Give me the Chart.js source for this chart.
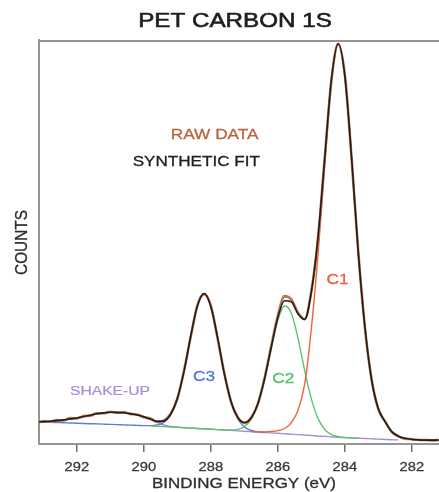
<!DOCTYPE html>
<html>
<head>
<meta charset="utf-8">
<script src="https://cdn.jsdelivr.net/npm/chart.js@4.4.1/dist/chart.umd.min.js"></script>
<style>
  html, body { margin: 0; padding: 0; background: #ffffff; }
  #wrap { width: 439px; height: 492px; position: relative; }
</style>
</head>
<body>
<div id="wrap"><canvas id="c" width="439" height="492"></canvas></div>
<script>
// Binding energy grid (eV)
const energy = [293.2,293.0,292.8,292.6,292.4,292.2,292.0,291.8,291.6,291.4,291.2,291.0,290.8,290.6,290.4,290.2,290.0,
  289.8,289.6,289.4,289.2,289.0,288.8,288.6,288.4,288.2,288.0,287.8,287.6,287.4,287.2,287.0,286.8,286.6,286.4,286.2,286.0,
  285.8,285.6,285.4,285.2,285.0,284.8,284.6,284.4,284.2,284.0,283.8,283.6,283.4,283.2,283.0,282.8,282.6,282.4,282.2,282.0,
  281.8,281.6,281.4,281.2];

const rawData = [5.3,5.6,5.5,5.9,5.8,6.4,6.3,6.9,7.0,7.6,7.6,8.0,7.7,7.9,7.4,7.3,6.6,
  6.3,5.5,5.8,7.5,11.2,18.2,26.6,34.4,37.1,34.2,26.2,17.6,10.5,6.7,5.2,6.5,9.8,16.2,24.1,31.8,
  36.6,35.8,32.5,30.9,37.8,51.0,70.9,90.1,99.0,91.3,70.8,47.6,28.7,15.9,8.6,5.6,3.0,1.9,1.3,1.2,
  1.0,1.0,0.9,1.0];

const syntheticFit = [5.50,5.55,5.64,5.78,5.97,6.21,6.45,6.79,7.13,7.47,7.71,7.85,7.84,7.73,7.52,7.20,6.74,
  6.14,5.59,5.73,7.36,11.32,18.03,26.74,34.24,37.25,34.06,26.37,17.48,10.59,6.60,5.32,6.38,9.94,16.01,23.88,31.30,
  35.44,35.23,32.22,30.81,37.66,51.28,70.79,90.34,99.12,91.11,71.01,47.43,28.86,15.78,8.71,5.53,3.06,1.92,1.40,1.13,
  1.02,0.96,0.95,0.95];

const c1 = [null,null,null,null,null,null,null,null,null,null,null,null,null,null,null,null,null,
  null,null,null,null,null,null,null,null,null,null,null,null,null,null,null,3.06,3.01,3.01,3.08,3.30,
  3.84,5.23,8.32,14.81,28.60,46.99,69.08,89.77,98.96,91.08,71.01,47.43,28.86,15.78,8.71,5.53,3.06,1.92,1.40,null,
  null,null,null,null];

const c2 = [null,null,null,null,null,null,null,null,null,null,null,null,null,null,null,null,null,
  4.47,4.40,4.30,4.22,4.13,4.03,3.94,3.84,3.75,3.66,3.57,3.48,3.45,3.61,4.29,6.09,9.82,15.86,23.55,30.65,
  34.14,32.43,26.22,18.21,11.16,6.28,3.59,2.34,1.82,1.61,1.51,1.43,null,null,null,null,null,null,null,null,
  null,null,null,null];

const c3 = [5.50,5.45,5.39,5.33,5.27,5.21,5.15,5.09,5.03,4.97,4.91,4.85,4.79,4.73,4.67,4.60,4.54,
  4.54,4.69,5.33,7.21,11.27,18.03,26.74,34.24,37.25,34.06,26.36,17.46,10.50,6.25,4.19,3.35,3.03,2.86,null,null,
  null,null,null,null,null,null,null,null,null,null,null,null,null,null,null,null,null,null,null,null,
  null,null,null,null];

const shakeUp = [5.50,5.55,5.64,5.78,5.97,6.21,6.45,6.79,7.13,7.47,7.71,7.85,7.84,7.73,7.52,7.20,6.74,
  6.07,5.30,4.70,4.37,4.18,4.03,3.94,3.84,3.75,3.66,3.56,3.46,3.36,3.26,3.16,3.06,2.96,2.86,2.75,2.65,
  2.54,2.43,2.32,2.21,2.10,1.99,1.88,1.77,1.66,1.58,1.51,1.43,1.36,1.28,1.21,1.13,1.06,1.02,null,null,
  null,null,null,null];

const tickValues = [292, 290, 288, 286, 284, 282];
const tickLabels = ['292', '290', '288', '286', '284', '282'];

function pts(arr) {
  return energy.map((e, i) => ({ x: e, y: arr[i] }));
}

const SX = 1.18;
function drawText(ctx, s, x, y, size, color, align, sx, stroke) {
  ctx.save();
  ctx.translate(x, y);
  ctx.scale(sx, 1);
  ctx.font = size + 'px "Liberation Sans", Arial, sans-serif';
  ctx.fillStyle = color;
  ctx.textAlign = align;
  ctx.textBaseline = 'alphabetic';
  ctx.fillText(s, 0, 0);
  if (stroke) {
    ctx.strokeStyle = color;
    ctx.lineWidth = stroke;
    ctx.strokeText(s, 0, 0);
  }
  ctx.restore();
}

const decor = {
  id: 'decor',
  afterDraw(chart) {
    const ctx = chart.ctx;
    const a = chart.chartArea;
    const xs = chart.scales.x;
    // frame top line
    ctx.save();
    ctx.strokeStyle = '#959595';
    ctx.lineWidth = 2;
    ctx.beginPath();
    ctx.moveTo(a.left, a.top + 1);
    ctx.lineTo(a.right, a.top + 1);
    ctx.stroke();
    ctx.restore();
    // title
    drawText(ctx, 'PET CARBON 1S', 235, 26.5, 20.5, '#1e1e1e', 'center', SX, 0.6);
    // legend texts
    drawText(ctx, 'RAW DATA', 258.5, 139, 14.6, '#b8643c', 'right', SX, 0.3);
    drawText(ctx, 'SYNTHETIC FIT', 260, 166, 14.5, '#222222', 'right', SX, 0.3);
    // component labels
    drawText(ctx, 'C1', 337.5, 284, 15.5, '#ef5a3c', 'center', 1.12, 0.3);
    drawText(ctx, 'C2', 283.3, 382.5, 15.5, '#55c06a', 'center', 1.12, 0.3);
    drawText(ctx, 'C3', 204, 381, 15.5, '#5577cc', 'center', 1.12, 0.3);
    drawText(ctx, 'SHAKE-UP', 110, 394.5, 13.5, '#a98bd6', 'center', 1.16, 0.2);
    // tick labels
    tickValues.forEach((v, i) => {
      drawText(ctx, tickLabels[i], xs.getPixelForValue(v), 471, 12.8, '#3a3a3a', 'center', 1.15, 0.3);
    });
    // axis titles
    drawText(ctx, 'BINDING ENERGY (eV)', 244, 488, 14.4, '#2e2e2e', 'center', SX, 0.3);
    ctx.save();
    ctx.translate(26.5, 242.5);
    ctx.rotate(-Math.PI / 2);
    ctx.scale(1.06, SX);
    ctx.font = '14.5px "Liberation Sans", Arial, sans-serif';
    ctx.fillStyle = '#2e2e2e';
    ctx.strokeStyle = '#2e2e2e';
    ctx.lineWidth = 0.3;
    ctx.textAlign = 'center';
    ctx.textBaseline = 'alphabetic';
    ctx.fillText('COUNTS', 0, 0);
    ctx.strokeText('COUNTS', 0, 0);
    ctx.restore();
  }
};

function ds(label, arr, color, width) {
  return {
    label: label,
    data: pts(arr),
    borderColor: color,
    borderWidth: width,
    pointRadius: 0,
    fill: false,
    cubicInterpolationMode: 'monotone',
    spanGaps: false
  };
}

new Chart(document.getElementById('c'), {
  type: 'line',
  data: {
    datasets: [
      ds('SYNTHETIC FIT', syntheticFit, '#1e1e1e', 1.6),
      ds('RAW DATA', rawData, '#c07850', 2.6),
      ds('C1', c1, '#f0623f', 1.4),
      ds('C2', c2, '#5fc36f', 1.4),
      ds('C3', c3, '#5b7fd0', 1.4),
      ds('SHAKE-UP', shakeUp, '#a98bd6', 1.4)
    ]
  },
  options: {
    responsive: false,
    animation: false,
    layout: { padding: { top: 40, left: 0, right: 0, bottom: 0 } },
    plugins: {
      legend: { display: false },
      title: { display: false },
      tooltip: { enabled: false }
    },
    scales: {
      x: {
        type: 'linear',
        reverse: true,
        min: 281.19,
        max: 293.13,
        afterBuildTicks(scale) {
          scale.ticks = tickValues.map(v => ({ value: v }));
        },
        afterFit(scale) { scale.height = 48; },
        ticks: { display: false },
        grid: {
          drawOnChartArea: false,
          drawTicks: true,
          tickLength: 8,
          color: '#6f6f6f',
          lineWidth: 1.5
        },
        border: { display: true, color: '#959595', width: 2 }
      },
      y: {
        type: 'linear',
        min: 0,
        max: 100,
        afterFit(scale) { scale.width = 39; },
        ticks: { display: false },
        grid: { display: false, drawTicks: false },
        border: { display: true, color: '#959595', width: 2 }
      }
    }
  },
  plugins: [decor]
});
</script>
</body>
</html>
